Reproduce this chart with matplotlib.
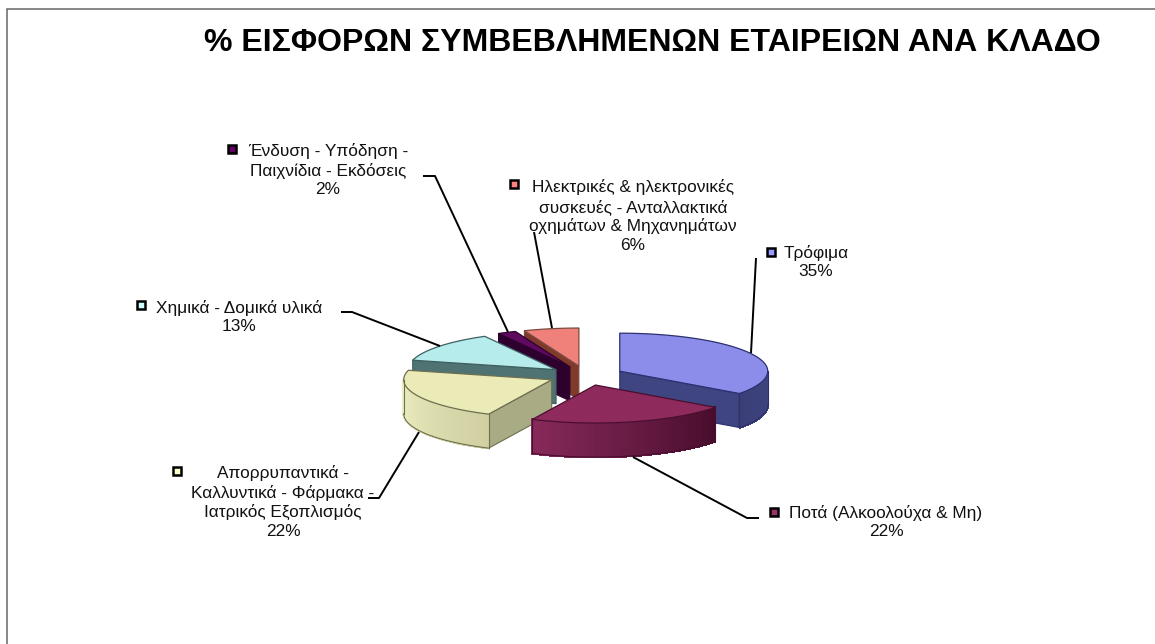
#---------------------------------------------------------------------------------------------------------------------------
# Exploded 3D pie: contributions per sector
#---------------------------------------------------------------------------------------------------------------------------
import numpy as np                              # Scientific computing with Python
import matplotlib
matplotlib.use('Agg')
import matplotlib.pyplot as plt                 # Plotting library
from matplotlib.colors import to_rgb
from matplotlib.patches import Polygon
#---------------------------------------------------------------------------------------------------------------------------
# Data
title = '% ΕΙΣΦΟΡΩΝ ΣΥΜΒΕΒΛΗΜΕΝΩΝ ΕΤΑΙΡΕΙΩΝ ΑΝΑ ΚΛΑΔΟ'
categories = ['Τρόφιμα',
              'Ποτά (Αλκοολούχα & Μη)',
              'Απορρυπαντικά -\nΚαλλυντικά - Φάρμακα -\nΙατρικός Εξοπλισμός',
              'Χημικά - Δομικά υλικά',
              'Ένδυση - Υπόδηση -\nΠαιχνίδια - Εκδόσεις',
              'Ηλεκτρικές & ηλεκτρονικές\nσυσκευές - Ανταλλακτικά\nοχημάτων & Μηχανημάτων']
values = [35, 22, 22, 13, 2, 6]

# Colors per slice
top_colors = ['#8c8cea', '#8e2a5c', '#ebebb8', '#b6ecec', '#5e0a5e', '#f0807a']
face_colors = ['#3f4580', '#4b0f30', '#a9ab85', '#4f7272', '#2d002d', '#7f3a2a']
rim_start = ['#3f4580', '#470c2b', '#cfcfa2', '#4f7272', '#2d002d', '#7f3a2a']
rim_end = ['#3a3f78', '#86295a', '#edeec0', '#4f7272', '#2d002d', '#7f3a2a']
edge_colors = ['#2b3070', '#4a0f30', '#6d6f50', '#3f6060', '#2d002d', '#7a4a40']
marker_colors = ['#9999ff', '#993366', '#ffffcc', '#ccffff', '#660066', '#ff8080']

# Pie geometry (pixels)
cx, cy = 586, 375.6
rx, ry = 148, 38
depth = 34
explode = 0.256
draw_order = [5, 4, 3, 0, 2, 1]

# Text: center x, center y, marker x, marker y
label_pos = [(816, 262, 771, 252),
             (886, 522, 774, 512),
             (283, 502, 177, 471),
             (239, 317, 141, 305),
             (328, 170, 232, 149),
             (633, 216, 514, 184)]

# Leader lines
leaders = [[(756, 258), (751, 353)],
           [(759, 518), (747, 518), (633, 457)],
           [(368, 498), (379, 498), (419, 432)],
           [(341, 312), (352, 312), (440, 346)],
           [(423, 176), (435, 176), (508, 332)],
           [(534, 232), (552, 328)]]
#---------------------------------------------------------------------------------------------------------------------------
plt.rcParams['font.family'] = ['Liberation Sans', 'DejaVu Sans']

fig = plt.figure(figsize=(11.55, 6.44), dpi=100)
ax = fig.add_axes([0, 0, 1, 1])
ax.set_xlim(0, 1155)
ax.set_ylim(644, 0)
ax.axis('off')

# Frame, only left and top are in the picture
ax.plot([7, 7, 1155], [644, 9, 9], color='#666666', lw=1.1, solid_joinstyle='miter')

# Title
ax.text(652.5, 43, title, fontsize=23, fontweight='bold', ha='center', va='center', color='black')

# Slice angles, clockwise from 12 o'clock
shares = np.array(values) / np.sum(values) * 360.0
ends = np.cumsum(shares)
starts = ends - shares


def point(tip, deg):
    rad = np.deg2rad(deg)
    return np.array([tip[0] + rx * np.sin(rad), tip[1] - ry * np.cos(rad)])


def face_visible(tip, deg, mid):
    # The cut face shows when the slice lies above the edge on the screen
    p = point(tip, deg) - tip
    m = point(tip, mid) - tip
    if abs(p[0]) < 1e-6:
        return False
    n = np.array([-p[1], p[0]])
    if n[1] < 0:
        n = -n
    return np.dot(n, m) < 0


for i in draw_order:
    mid = (starts[i] + ends[i]) / 2
    rad = np.deg2rad(mid)
    tip = np.array([cx + explode * rx * np.sin(rad), cy - explode * ry * np.cos(rad)])
    down = np.array([0, depth])

    # Cut faces
    for deg in (starts[i], ends[i]):
        if face_visible(tip, deg, mid):
            p = point(tip, deg)
            ax.add_patch(Polygon([tip, p, p + down, tip + down], closed=True, facecolor=face_colors[i],
                                 edgecolor=edge_colors[i], lw=0.8, joinstyle='round'))

    # Outer rim, with a gradient along the arc
    a0, a1 = max(starts[i], 90), min(ends[i], 270)
    if a1 > a0:
        arc = np.linspace(a0, a1, 60)
        c0, c1 = np.array(to_rgb(rim_start[i])), np.array(to_rgb(rim_end[i]))
        for k in range(len(arc) - 1):
            color = c0 + (c1 - c0) * (k / (len(arc) - 2))
            p, q = point(tip, arc[k]), point(tip, arc[k + 1])
            ax.add_patch(Polygon([p, q, q + down, p + down], closed=True, facecolor=color, edgecolor=color,
                                 lw=1.2, antialiased=False))
        pts = np.array([point(tip, d) + down for d in arc])
        ax.plot(pts[:, 0], pts[:, 1], color=edge_colors[i], lw=0.8)
        for d in (a0, a1):
            p = point(tip, d)
            ax.plot([p[0], p[0]], [p[1], p[1] + depth], color=edge_colors[i], lw=0.8)

    # Top surface
    arc = np.linspace(starts[i], ends[i], 80)
    outline = [tip] + [point(tip, d) for d in arc]
    ax.add_patch(Polygon(outline, closed=True, facecolor=top_colors[i], edgecolor=edge_colors[i], lw=0.9, joinstyle='round'))

# Leader lines
for line in leaders:
    xs, ys = zip(*line)
    ax.plot(xs, ys, color='black', lw=1.4, solid_capstyle='butt', zorder=5)

# Labels and legend keys
for i, (tx, ty, mx, my) in enumerate(label_pos):
    ax.text(tx, ty, f'{categories[i]}\n{values[i]}%', fontsize=12.4, ha='center', va='center',
            linespacing=1.28, color='#111111', zorder=6)
    ax.plot(mx, my, marker='s', ms=6.4, mfc=marker_colors[i], mec='black', mew=1.8, ls='none', zorder=6)

#---------------------------------------------------------------------------------------------------------------------------
# Save the image
plt.savefig('out.png', dpi=100)
